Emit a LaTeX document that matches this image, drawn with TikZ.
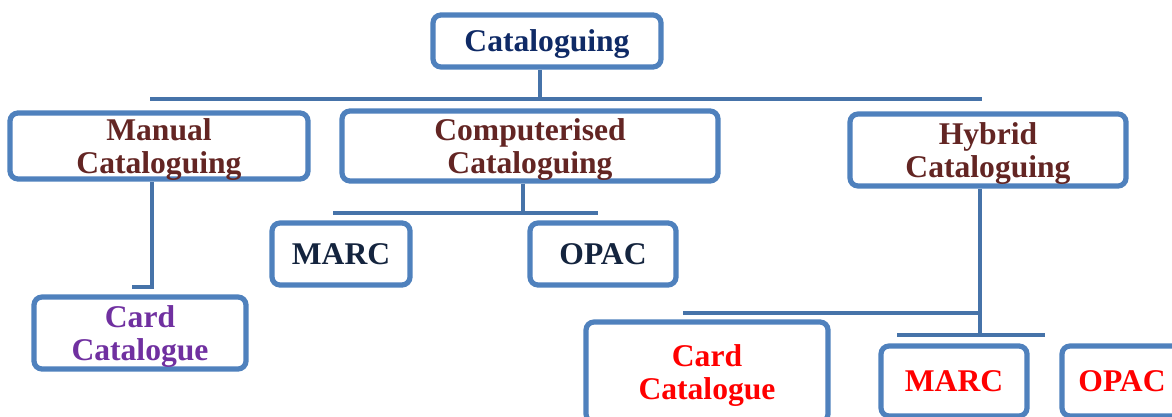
\documentclass[tikz,border=0pt]{standalone}
\usepackage{fontspec}
\setmainfont{Liberation Serif}
\definecolor{boxblue}{HTML}{4F81BD}
\definecolor{lineblue}{HTML}{4673A9}
\definecolor{topnavy}{HTML}{0F2A66}
\definecolor{subnavy}{HTML}{14243E}
\definecolor{brown}{HTML}{632523}
\definecolor{purple}{HTML}{7030A0}

\begin{document}
\begin{tikzpicture}[x=0.5pt,y=-0.5pt]
  \tikzset{box/.style={draw=boxblue,line width=2.6pt,rounded corners=4pt,fill=white,
      align=center,inner sep=0pt,text depth=0pt,font=\bfseries\fontsize{15.8}{16.5}\selectfont},
    link/.style={draw=lineblue,line width=2pt}}
  \clip (0,0) rectangle (1172,417);
  \node[box,text=topnavy,minimum width=114pt,minimum height=26pt] (cat) at (547,41) {Cataloguing};
  \node[box,text=brown,minimum width=149pt,minimum height=33pt] (manual) at (159,146) {Manual\\Cataloguing};
  \node[box,text=brown,minimum width=188pt,minimum height=35pt] (comp) at (530,146) {Computerised\\Cataloguing};
  \node[box,text=brown,minimum width=138pt,minimum height=36pt] (hybrid) at (988,150) {Hybrid\\Cataloguing};
  \node[box,text=purple,minimum width=106pt,minimum height=36pt] (card) at (140,333) {Card\\Catalogue};
  \node[box,text=subnavy,minimum width=69pt,minimum height=31pt] (marc) at (341,254) {MARC};
  \node[box,text=subnavy,minimum width=73pt,minimum height=31pt] (opac) at (603,254) {OPAC};
  \node[box,text=red,minimum width=121pt,minimum height=50pt] (hcard) at (707,372) {Card\\Catalogue};
  \node[box,text=red,minimum width=73pt,minimum height=35pt] (hmarc) at (954,381) {MARC};
  \node[box,text=red,minimum width=60pt,minimum height=35pt] (hopac) at (1122,381) {OPAC};
  \coordinate (busL) at (150,99);
  \coordinate (busR) at (982,99);
  \coordinate (c1) at (540,99);
  \coordinate (m1) at (152,287);
  \coordinate (m2) at (132,287);
  \coordinate (p1) at (523,213);
  \coordinate (pL) at (333,213);
  \coordinate (pR) at (598,213);
  \coordinate (h1) at (980,313);
  \coordinate (hL) at (683,313);
  \coordinate (h2) at (980,335);
  \coordinate (hA) at (897,335);
  \coordinate (hB) at (1045,335);
  \draw[link] (c1 |- cat.south) -- (c1);
  \draw[link] (busL) -- (busR);
  \draw[link] (m1 |- manual.south) -- (m1) -- (m2);
  \draw[link] (p1 |- comp.south) -- (p1);
  \draw[link] (pL) -- (pR);
  \draw[link] (h1 |- hybrid.south) -- (h2);
  \draw[link] (hL) -- (h1);
  \draw[link] (hA) -- (hB);
\end{tikzpicture}
\end{document}
